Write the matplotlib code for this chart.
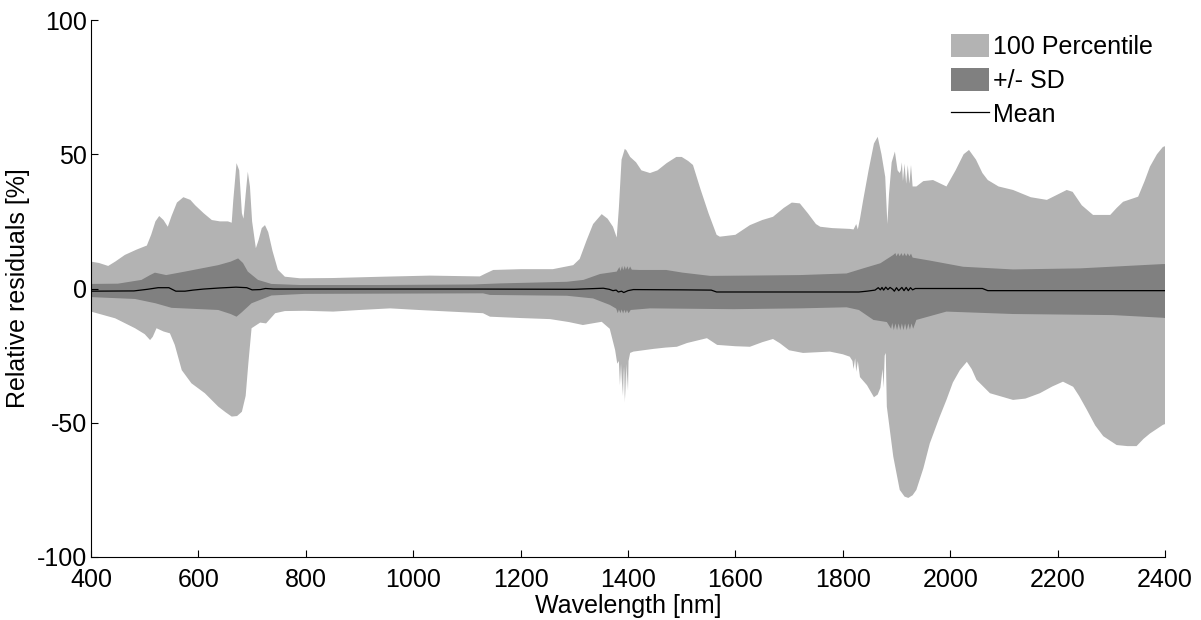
import numpy as np
import matplotlib
matplotlib.use("Agg")
import matplotlib.pyplot as plt

plt.rcParams['font.family'] = ['Liberation Sans', 'DejaVu Sans']
plt.rcParams['axes.unicode_minus'] = False

# ---- residual envelopes (wavelength in nm, residuals in %) ----
pct_hi_wl = [400, 415, 432, 445, 463, 485, 504, 512, 520, 527, 535, 543, 550, 560, 572, 585, 594,
             610, 625, 640, 655, 662, 665, 671, 676, 681, 684, 688, 692, 696, 700, 707, 712, 718,
             724, 730, 738, 748, 761, 789, 850, 944, 1031, 1124, 1134, 1149, 1200, 1260, 1298,
             1310, 1323, 1335, 1351, 1362, 1372, 1379, 1383, 1388, 1394, 1397, 1404, 1415, 1425,
             1441, 1455, 1472, 1490, 1500, 1512, 1521, 1535, 1550, 1565, 1571, 1600, 1615, 1627,
             1650, 1670, 1690, 1705, 1720, 1735, 1750, 1758, 1780, 1813, 1820, 1825, 1828, 1832,
             1838, 1848, 1858, 1865, 1872, 1879, 1883, 1886, 1891, 1897, 1902, 1906, 1908, 1910,
             1912, 1915, 1918, 1921, 1924, 1927, 1930, 1937, 1950, 1968, 1993, 2010, 2025, 2035,
             2048, 2060, 2070, 2090, 2117, 2150, 2180, 2200, 2217, 2228, 2245, 2266, 2298, 2310,
             2322, 2350, 2362, 2372, 2385, 2396, 2400]
pct_hi = [10, 9.5, 8.4, 10, 12.5, 14.5, 16, 20, 25, 27, 25.5, 23, 27, 32, 34, 33, 31,
          28, 25.5, 25, 25, 24.5, 33, 46.7, 44, 28, 26, 35, 43.5, 38, 25, 15, 18, 22.5,
          23.6, 21, 14, 7, 4.4, 3.8, 3.9, 4.4, 4.8, 4.5, 5.5, 6.9, 7.2, 7.2, 8.7,
          11, 18, 24, 27.7, 26, 23, 19, 30, 48, 52, 51.5, 49, 47, 44,
          43, 44, 46.7, 49, 49, 47.5, 46, 37, 28, 20, 19.3, 20, 22, 23.6,
          25.5, 26.7, 30, 32, 31.7, 28, 24, 23, 22.5, 22.2, 22, 24, 22, 26,
          33, 44, 54, 56.5, 50, 41.6, 24, 35, 47, 51, 44, 43, 44, 47,
          40, 46.5, 39, 46, 39, 46, 38, 38, 40, 40.4, 38, 44, 50, 51.6,
          48, 43, 40.4, 38, 36.7, 34, 33, 35, 36.7, 36, 31, 27.4, 27.4, 30,
          32.3, 34.2, 40, 45.4, 50, 52.7, 53]

pct_lo_wl = [400, 445, 482, 500, 510, 515, 522, 535, 547, 556, 569, 587, 612, 637, 650, 662, 672,
             681, 688, 693, 699, 715, 726, 735, 743, 761, 798, 851, 900, 957, 1010, 1069, 1130,
             1143, 1200, 1255, 1290, 1316, 1351, 1366, 1376, 1380, 1383, 1385, 1387, 1390, 1391,
             1393, 1394, 1396, 1397, 1400, 1401, 1404, 1410, 1447, 1470, 1491, 1510, 1547, 1566,
             1600, 1627, 1650, 1670, 1683, 1700, 1726, 1776, 1800, 1813, 1818, 1820, 1823, 1825,
             1828, 1832, 1845, 1858, 1865, 1870, 1874, 1876, 1878, 1880, 1882, 1894, 1906, 1915,
             1922, 1930, 1937, 1950, 1962, 1980, 1993, 2005, 2018, 2031, 2040, 2049, 2074, 2117,
             2140, 2167, 2190, 2210, 2229, 2240, 2254, 2270, 2285, 2310, 2330, 2347, 2360, 2372,
             2396, 2400]
pct_lo = [-8.6, -11.1, -14.8, -17, -19.2, -18, -14.8, -16, -16.7, -21, -30.4, -35.3, -39, -44, -46, -47.7, -47.5,
          -45.9, -40, -27.9, -14.8, -12.7, -13, -11, -9.2, -8.4, -8.3, -8.6, -8, -7.4, -8, -8.6, -9.2,
          -10.5, -11, -11.4, -12.5, -13.6, -12.4, -15, -22.9, -28, -27, -36, -28, -40, -29,
          -42.5, -29, -41, -28, -38, -27, -24, -23.5, -22.5, -22, -21.7, -20.3, -18.5, -21,
          -21.5, -21.7, -20, -18.8, -20.4, -23, -24, -23.5, -24.5, -25.4, -27, -30, -26, -31,
          -27, -33, -36, -40.5, -39.5, -37, -30, -37, -25, -24, -44, -62.6, -75, -77.5,
          -78, -77, -75, -67, -57.7, -48, -41.5, -35, -30.4, -27.3, -30, -34, -39, -41.5,
          -41, -39, -36.5, -34.7, -36.6, -40, -45, -51, -55, -58.3, -58.7, -58.7, -56, -54,
          -50.8, -50.5]

sd_hi_wl = [400, 450, 494, 510, 519, 540, 575, 637, 660, 674, 683, 692, 711, 736, 789, 938, 1111,
            1162, 1286, 1317, 1348, 1379, 1384, 1386, 1389, 1391, 1394, 1396, 1399, 1401, 1404,
            1407, 1422, 1471, 1502, 1553, 1620, 1720, 1807, 1838, 1870, 1894, 1898, 1900, 1903,
            1906, 1909, 1912, 1915, 1918, 1921, 1924, 1927, 1930, 1962, 2024, 2117, 2242, 2396,
            2400]
sd_hi = [1.7, 1.8, 3.2, 5, 5.9, 5, 6.3, 8.7, 10, 11.2, 9.5, 6.3, 3.2, 1.7, 1.3, 1.3, 1.5,
         1.9, 2.5, 3.2, 5.4, 6.3, 8, 6.5, 8.4, 6.8, 8.4, 7, 8.3, 7, 8.2,
         7, 6.9, 6.9, 5.9, 4.7, 4.8, 5, 5.6, 7.5, 9.4, 12.5, 13.2, 12, 13.2,
         12, 13.2, 12, 13.2, 12, 13.1, 12, 13, 11.5, 10.4, 8.1, 7.1, 7.5, 9.1,
         9.1]

sd_lo_wl = [400, 482, 520, 550, 637, 660, 671, 680, 699, 736, 798, 1130, 1143, 1286, 1335, 1366,
            1378, 1381, 1383, 1386, 1388, 1391, 1393, 1396, 1398, 1401, 1405, 1441, 1596, 1720,
            1807, 1830, 1857, 1882, 1890, 1892, 1895, 1898, 1901, 1904, 1907, 1910, 1913, 1916,
            1919, 1922, 1925, 1928, 1931, 1937, 1993, 2117, 2303, 2396, 2400]
sd_lo = [-3.2, -3.9, -5.5, -7.2, -8, -9.5, -10.5, -9, -5.5, -2.6, -2, -1.8, -2.4, -2.7, -3.7, -6.1,
         -7.5, -9.2, -7.8, -9.2, -7.8, -9.3, -7.9, -9.2, -8, -9.2, -8, -7.4, -7.7, -7.4,
         -7, -8, -11.7, -12.5, -15, -12.8, -15.5, -13, -15.5, -13, -15.5, -13, -15.5, -13,
         -15.5, -13, -15.3, -13, -15, -11.7, -8.6, -9.5, -9.9, -10.9, -11]

mean_wl = [400, 480, 505, 525, 545, 558, 575, 590, 610, 640, 670, 690, 700, 715, 725, 740, 900,
           1100, 1300, 1354, 1365, 1372, 1378, 1382, 1388, 1392, 1400, 1410, 1500, 1555, 1565,
           1700, 1830, 1845, 1860, 1866, 1870, 1873, 1876, 1880, 1884, 1888, 1893, 1896, 1900,
           1904, 1907, 1910, 1914, 1918, 1922, 1926, 1930, 1935, 2000, 2060, 2070, 2100, 2400]
mean_res = [-1.0, -0.9, -0.3, 0.3, 0.3, -1.0, -1.0, -0.6, -0.2, 0.2, 0.5, 0.3, -0.5, -0.4, 0, -0.2, -0.2,
            -0.2, -0.3, 0.1, -0.3, -0.8, -0.6, -1.3, -1.0, -1.5, -0.8, -0.4, -0.5, -0.6, -1.3,
            -1.3, -1.3, -1.0, -0.6, 0.3, -0.5, 0.4, -0.6, 0.5, -0.4, 0.4, -0.3, -1.0, 0.3,
            -0.8, -0.2, 0.4, -0.8, 0.4, -0.8, 0.3, -0.5, 0.0, 0.0, 0.0, -0.8, -0.8, -0.8]

x_ticks = [400, 600, 800, 1000, 1200, 1400, 1600, 1800, 2000, 2200, 2400]
y_ticks = [-100, -50, 0, 50, 100]

light_grey = '#b3b3b3'
dark_grey = '#808080'

fig = plt.figure(figsize=(12.01, 6.20), dpi=100)
ax = fig.add_axes([91 / 1201, 1 - 557 / 620, (1165 - 91) / 1201, (557 - 20) / 620])

# 100 percentile band: upper edge forward, lower edge back
ax.fill(np.concatenate([pct_hi_wl, pct_lo_wl[::-1]]),
        np.concatenate([pct_hi, pct_lo[::-1]]),
        color=light_grey, lw=0, label='100 Percentile')
# +/- SD band
ax.fill(np.concatenate([sd_hi_wl, sd_lo_wl[::-1]]),
        np.concatenate([sd_hi, sd_lo[::-1]]),
        color=dark_grey, lw=0, label='+/- SD')
ax.plot(mean_wl, mean_res, color='black', lw=0.9, label='Mean')

ax.set_xlim(400, 2400)
ax.set_ylim(-100, 100)
ax.set_xticks(x_ticks)
ax.set_yticks(y_ticks)
ax.tick_params(direction='in', length=5, width=0.8, labelsize=18,
               top=False, right=False)
ax.tick_params(axis='x', pad=8)
ax.tick_params(axis='y', pad=3)
for side in ('top', 'right'):
    ax.spines[side].set_visible(False)
for side in ('left', 'bottom'):
    ax.spines[side].set_linewidth(0.8)

ax.set_xlabel('Wavelength [nm]', fontsize=18, labelpad=1)
ax.set_ylabel('Relative residuals [%]', fontsize=18, labelpad=5)

leg = ax.legend(loc='upper left', bbox_to_anchor=(951 / 1201, 1 - 34 / 620),
                bbox_transform=fig.transFigure, frameon=False, fontsize=18,
                handlelength=1.52, handleheight=1.05, handletextpad=0.15,
                labelspacing=0.36, borderpad=0, borderaxespad=0)

fig.savefig('out.png', dpi=100)
